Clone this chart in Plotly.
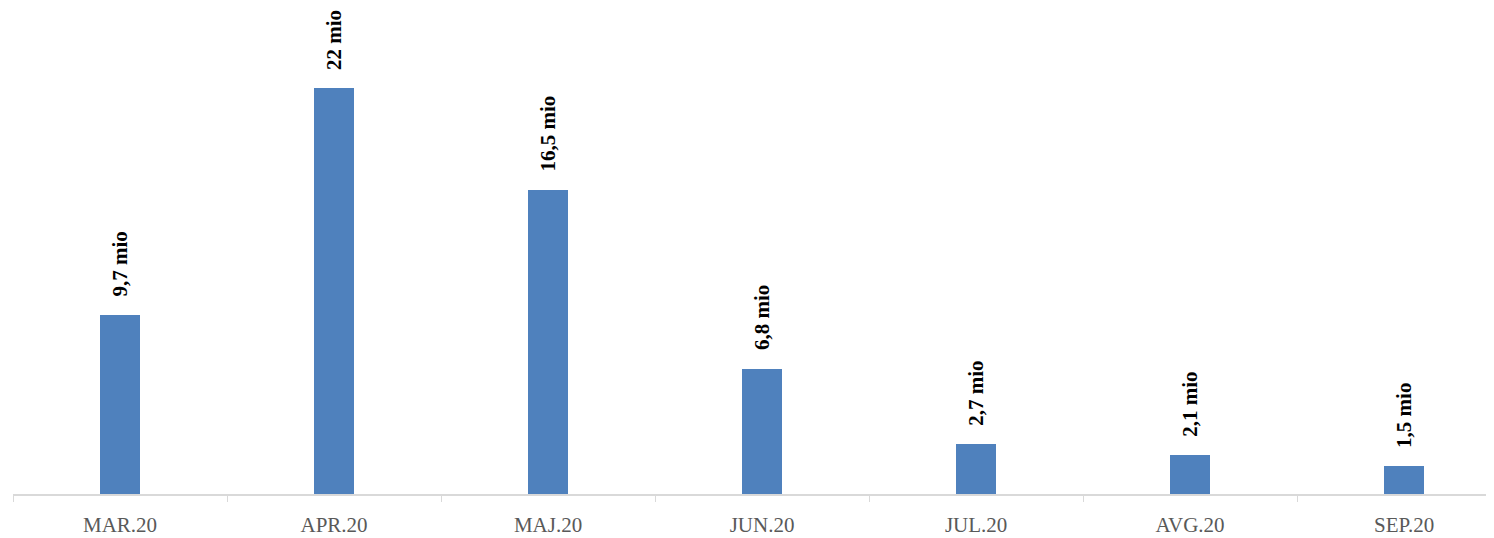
import plotly.graph_objects as go

categories = ["MAR.20", "APR.20", "MAJ.20", "JUN.20", "JUL.20", "AVG.20", "SEP.20"]
values = [9.7, 22, 16.5, 6.8, 2.7, 2.1, 1.5]
labels = ["9,7 mio", "22 mio", "16,5 mio", "6,8 mio", "2,7 mio", "2,1 mio", "1,5 mio"]

fig = go.Figure()
fig.add_trace(go.Bar(
    x=categories, y=values, width=0.187,
    marker=dict(color="#4f81bd", line=dict(width=0)),
    hoverinfo="skip",
))
for c, v, t in zip(categories, values, labels):
    fig.add_annotation(
        x=c, y=v, text="<b>%s</b>" % t, textangle=-90, showarrow=False,
        yanchor="bottom", xanchor="center", yshift=16,
        font=dict(family="Liberation Serif, DejaVu Serif, serif", size=21, color="#000000"),
    )

fig.update_layout(
    width=1486, height=530,
    margin=dict(l=5, r=0, t=0, b=44, autoexpand=False),
    paper_bgcolor="white", plot_bgcolor="white",
    showlegend=False,
    bargap=0,
)
fig.update_xaxes(
    type="category", range=[-0.5, 6.42], automargin=False,
    showline=True, linecolor="#d9d9d9", linewidth=1.5,
    ticks="outside", tickson="boundaries", ticklen=6, tickcolor="#d9d9d9",
    tickfont=dict(family="Liberation Serif, DejaVu Serif, serif", size=21, color="#595959"),
    ticklabelstandoff=11,
    showgrid=False,
)
fig.update_yaxes(range=[0, 26.34], visible=False, showgrid=False, zeroline=False, automargin=False)

fig.write_html("out.html")
